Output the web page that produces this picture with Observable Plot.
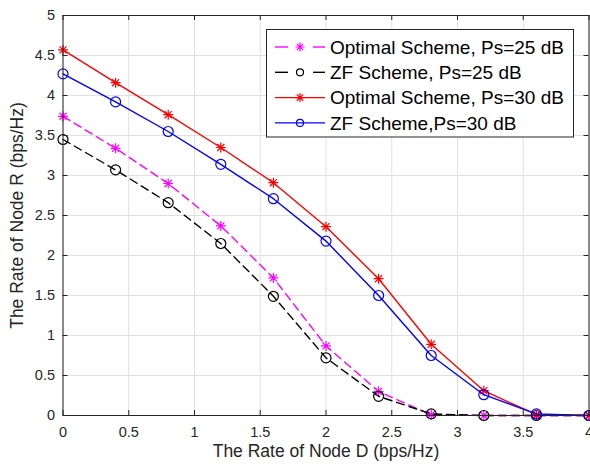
<!DOCTYPE html>
<html>
<head>
<meta charset="utf-8">
<script src="https://cdn.jsdelivr.net/npm/d3@7"></script>
<script src="https://cdn.jsdelivr.net/npm/@observablehq/plot@0.6"></script>
<style>
  html, body { margin: 0; padding: 0; background: #fff; }
  #chart { width: 590px; height: 464px; overflow: hidden; }
</style>
</head>
<body>
<div id="chart"></div>
<script>
// ---- data ----
const rateD = [0, 0.4, 0.8, 1.2, 1.6, 2.0, 2.4, 2.8, 3.2, 3.6, 4.0];
const optimal25 = [3.74, 3.34, 2.90, 2.37, 1.72, 0.87, 0.30, 0.01, 0.00, 0.00, 0.00];
const zf25      = [3.45, 3.07, 2.66, 2.15, 1.49, 0.72, 0.24, 0.02, 0.00, 0.00, 0.00];
const optimal30 = [4.57, 4.16, 3.76, 3.35, 2.91, 2.36, 1.71, 0.89, 0.31, 0.01, 0.00];
const zf30      = [4.27, 3.92, 3.55, 3.14, 2.71, 2.18, 1.50, 0.75, 0.26, 0.02, 0.00];
const seriesNames = ["Optimal Scheme, Ps=25 dB", "ZF Scheme, Ps=25 dB", "Optimal Scheme, Ps=30 dB", "ZF Scheme,Ps=30 dB"];
const xTicks = [0, 0.5, 1, 1.5, 2, 2.5, 3, 3.5, 4];
const yTicks = [0, 0.5, 1, 1.5, 2, 2.5, 3, 3.5, 4, 4.5, 5];
const xLabel = "The Rate of Node D (bps/Hz)";
const yLabel = "The Rate of Node R (bps/Hz)";

// ---- styles ----
const asteriskSymbol = {
  draw(ctx, size) {
    const r = Math.sqrt(size / Math.PI);
    const d = r * Math.SQRT1_2;
    ctx.moveTo(-r, 0); ctx.lineTo(r, 0);
    ctx.moveTo(0, -r); ctx.lineTo(0, r);
    ctx.moveTo(-d, -d); ctx.lineTo(d, d);
    ctx.moveTo(-d, d); ctx.lineTo(d, -d);
  }
};
const styles = [
  {color: "#ff00ff", dash: "8,5", symbol: asteriskSymbol, r: 5, lr: 4.5},
  {color: "#000000", dash: "8,5", symbol: "circle", r: 5, lr: 3.5},
  {color: "#ff0000", dash: null, symbol: asteriskSymbol, r: 5, lr: 4.5},
  {color: "#0000ff", dash: null, symbol: "circle", r: 5, lr: 3.5}
];
const seriesValues = [optimal25, zf25, optimal30, zf30];
const data = seriesValues.map((vals, i) => rateD.map((x, j) => ({x, y: vals[j], s: seriesNames[i]})));

const W = 590, H = 464, mL = 62.5, mR = 1.5, mT = 15, mB = 49;
const innerW = W - mL - mR, innerH = H - mT - mB;
const axisColor = "#262626";
const font = "'Liberation Sans', Arial, Helvetica, sans-serif";

const marks = [
  Plot.gridX(xTicks, {stroke: "#e0e0e0", strokeOpacity: 1}),
  Plot.gridY(yTicks, {stroke: "#e0e0e0", strokeOpacity: 1}),
];
data.forEach((rows, i) => {
  const st = styles[i];
  marks.push(Plot.line(rows, {x: "x", y: "y", stroke: st.color, strokeWidth: 1.4, strokeDasharray: st.dash}));
  marks.push(Plot.dot(rows, {x: "x", y: "y", stroke: st.color, fill: "none", r: st.r, symbol: st.symbol, strokeWidth: 1.2}));
});
marks.push(
  Plot.frame({stroke: axisColor, strokeWidth: 1}),
  Plot.tickX(xTicks, {x: d => d, insetTop: innerH - 5, stroke: axisColor}),
  Plot.tickX(xTicks, {x: d => d, insetBottom: innerH - 5, stroke: axisColor}),
  Plot.tickY(yTicks, {y: d => d, insetRight: innerW - 5, stroke: axisColor}),
  Plot.tickY(yTicks, {y: d => d, insetLeft: innerW - 5, stroke: axisColor}),
  Plot.axisX(xTicks, {tickSize: 0, tickPadding: 11, fontSize: 14.5, fill: axisColor, tickFormat: d => String(d), label: null}),
  Plot.axisY(yTicks, {tickSize: 0, tickPadding: 8, fontSize: 14.5, fill: axisColor, tickFormat: d => String(d), label: null}),
  Plot.text([xLabel], {text: d => d, frameAnchor: "bottom", dy: 41, fontSize: 17.5, fill: axisColor}),
  Plot.text([yLabel], {text: d => d, frameAnchor: "left", textAnchor: "middle", rotate: -90, dx: -46, fontSize: 17.5, fill: axisColor})
);

const chart = Plot.plot({
  width: W, height: H,
  marginLeft: mL, marginRight: mR, marginTop: mT, marginBottom: mB,
  style: {fontFamily: font, background: "#fff"},
  x: {domain: [0, 4], axis: null},
  y: {domain: [0, 5], axis: null},
  marks
});

// ---- legend ----
const svg = d3.select(chart);
const lg = svg.append("g").attr("font-family", font).attr("text-anchor", "start");
lg.append("rect").attr("x", 266.5).attr("y", 29.5).attr("width", 307).attr("height", 107.5)
  .attr("fill", "#fff").attr("stroke", axisColor).attr("stroke-width", 1);
seriesNames.forEach((name, i) => {
  const st = styles[i];
  const cy = 47 + i * 25.3;
  const g = lg.append("g");
  if (st.dash) {
    g.append("line").attr("x1", 275).attr("x2", 288).attr("y1", cy).attr("y2", cy).attr("stroke", st.color).attr("stroke-width", 1.4);
    g.append("line").attr("x1", 313).attr("x2", 325).attr("y1", cy).attr("y2", cy).attr("stroke", st.color).attr("stroke-width", 1.4);
  } else {
    g.append("line").attr("x1", 275).attr("x2", 325).attr("y1", cy).attr("y2", cy).attr("stroke", st.color).attr("stroke-width", 1.4);
  }
  const sym = st.symbol === "circle" ? d3.symbolCircle : st.symbol;
  g.append("path").attr("transform", `translate(300,${cy})`)
    .attr("d", d3.symbol(sym, Math.PI * st.lr * st.lr)())
    .attr("fill", "none").attr("stroke", st.color).attr("stroke-width", 1.2);
  g.append("text").attr("x", 330).attr("y", cy).attr("dy", "0.35em").attr("text-anchor", "start")
    .attr("font-size", 19).attr("fill", "#000").text(name);
});

document.getElementById("chart").appendChild(chart);
</script>
</body>
</html>
